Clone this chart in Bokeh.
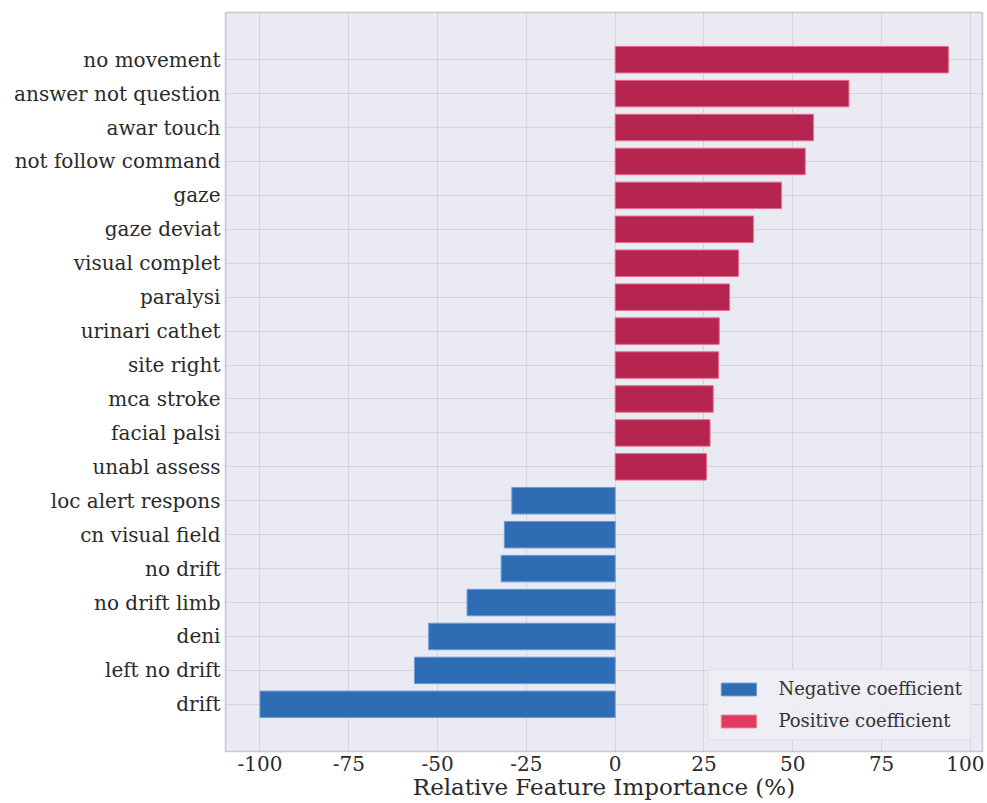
from bokeh.plotting import figure
from bokeh.models import FixedTicker, Range1d, Legend, LegendItem, ColumnDataSource
from bokeh.embed import file_html
from bokeh.resources import INLINE

# data (top to bottom as shown)
features = ["no movement", "answer not question", "awar touch", "not follow command",
            "gaze", "gaze deviat", "visual complet", "paralysi", "urinari cathet",
            "site right", "mca stroke", "facial palsi", "unabl assess",
            "loc alert respons", "cn visual field", "no drift", "no drift limb",
            "deni", "left no drift", "drift"]
importance = [93.8, 65.8, 55.8, 53.5, 46.8, 38.9, 34.7, 32.2, 29.3, 29.1, 27.6, 26.7, 25.7,
              -29.1, -31.2, -32.1, -41.7, -52.5, -56.5, -100.0]
x_ticks = [-100, -75, -50, -25, 0, 25, 50, 75, 100]
legend_labels = ["Negative coefficient", "Positive coefficient"]

FONT = "DejaVu Serif"
n = len(features)
ypos = [n - 1 - i for i in range(n)]

pos_idx = [i for i in range(n) if importance[i] > 0]
neg_idx = [i for i in range(n) if importance[i] < 0]
pos_src = ColumnDataSource(dict(y=[ypos[i] for i in pos_idx], v=[importance[i] for i in pos_idx]))
neg_src = ColumnDataSource(dict(y=[ypos[i] for i in neg_idx], v=[importance[i] for i in neg_idx]))

p = figure(width=984, height=803, output_backend="svg", toolbar_location=None,
           x_range=Range1d(-109.7, 103.4), y_range=Range1d(-1.39, 20.39),
           min_border_left=225, min_border_right=2, min_border_top=12, min_border_bottom=52)

p.background_fill_color = "#EAEAF2"
p.border_fill_color = "white"
p.outline_line_color = "#C8C8D0"
p.outline_line_width = 1.5

neg = p.hbar(y="y", left=0, right="v", height=0.78, source=neg_src,
             fill_color="#2E6DB4", line_color="#6A9BD6", line_width=1)
pos = p.hbar(y="y", left=0, right="v", height=0.78, source=pos_src,
             fill_color="#B5254F", line_color="#E86A8C", line_width=1)

# legend swatches (placed outside the visible range, zero width)
leg_neg = p.hbar(y=[-50], left=[0], right=[0], height=0.8,
                 fill_color="#2E6DB4", line_color="#6A9BD6")
leg_pos = p.hbar(y=[-50], left=[0], right=[0], height=0.8,
                 fill_color="#DF3A5F", line_color="#F07A96")

legend = Legend(items=[LegendItem(label=legend_labels[0], renderers=[leg_neg]),
                       LegendItem(label=legend_labels[1], renderers=[leg_pos])],
                location="bottom_right")
legend.label_text_font = FONT
legend.label_text_font_size = "18px"
legend.label_text_color = "#333333"
legend.glyph_width = 44
legend.glyph_height = 16
legend.label_height = 20
legend.label_standoff = 18
legend.spacing = 11
legend.padding = 8
legend.margin = 11
legend.background_fill_color = "#EEEEF4"
legend.background_fill_alpha = 0.85
legend.border_line_color = "#D4D4DC"
legend.border_radius = 4
p.add_layout(legend)

p.xaxis.ticker = FixedTicker(ticks=x_ticks)
p.xaxis.major_label_overrides = {t: str(t) for t in x_ticks}
p.yaxis.ticker = FixedTicker(ticks=ypos)
p.yaxis.major_label_overrides = {ypos[i]: features[i] for i in range(n)}

for ax in (p.xaxis, p.yaxis):
    ax.axis_line_color = None
    ax.major_tick_line_color = None
    ax.minor_tick_line_color = None
    ax.major_tick_out = 0
    ax.major_tick_in = 0
    ax.minor_tick_out = 0
    ax.minor_tick_in = 0
    ax.major_label_text_font = FONT
    ax.major_label_text_font_size = "20px"
    ax.major_label_text_color = "#2A2A2A"

p.yaxis.major_label_standoff = 5
p.xaxis.major_label_standoff = 4
p.xaxis.axis_label = "Relative Feature Importance (%)"
p.xaxis.axis_label_text_font = FONT
p.xaxis.axis_label_text_font_size = "23px"
p.xaxis.axis_label_text_font_style = "normal"
p.xaxis.axis_label_text_color = "#2A2A2A"
p.xaxis.axis_label_standoff = 0

p.xgrid.grid_line_color = "#BFBFCA"
p.xgrid.grid_line_dash = "1 1"
p.ygrid.grid_line_color = "#BFBFCA"
p.ygrid.grid_line_dash = "1 1"

open("out.html", "w").write(file_html(p, INLINE))
